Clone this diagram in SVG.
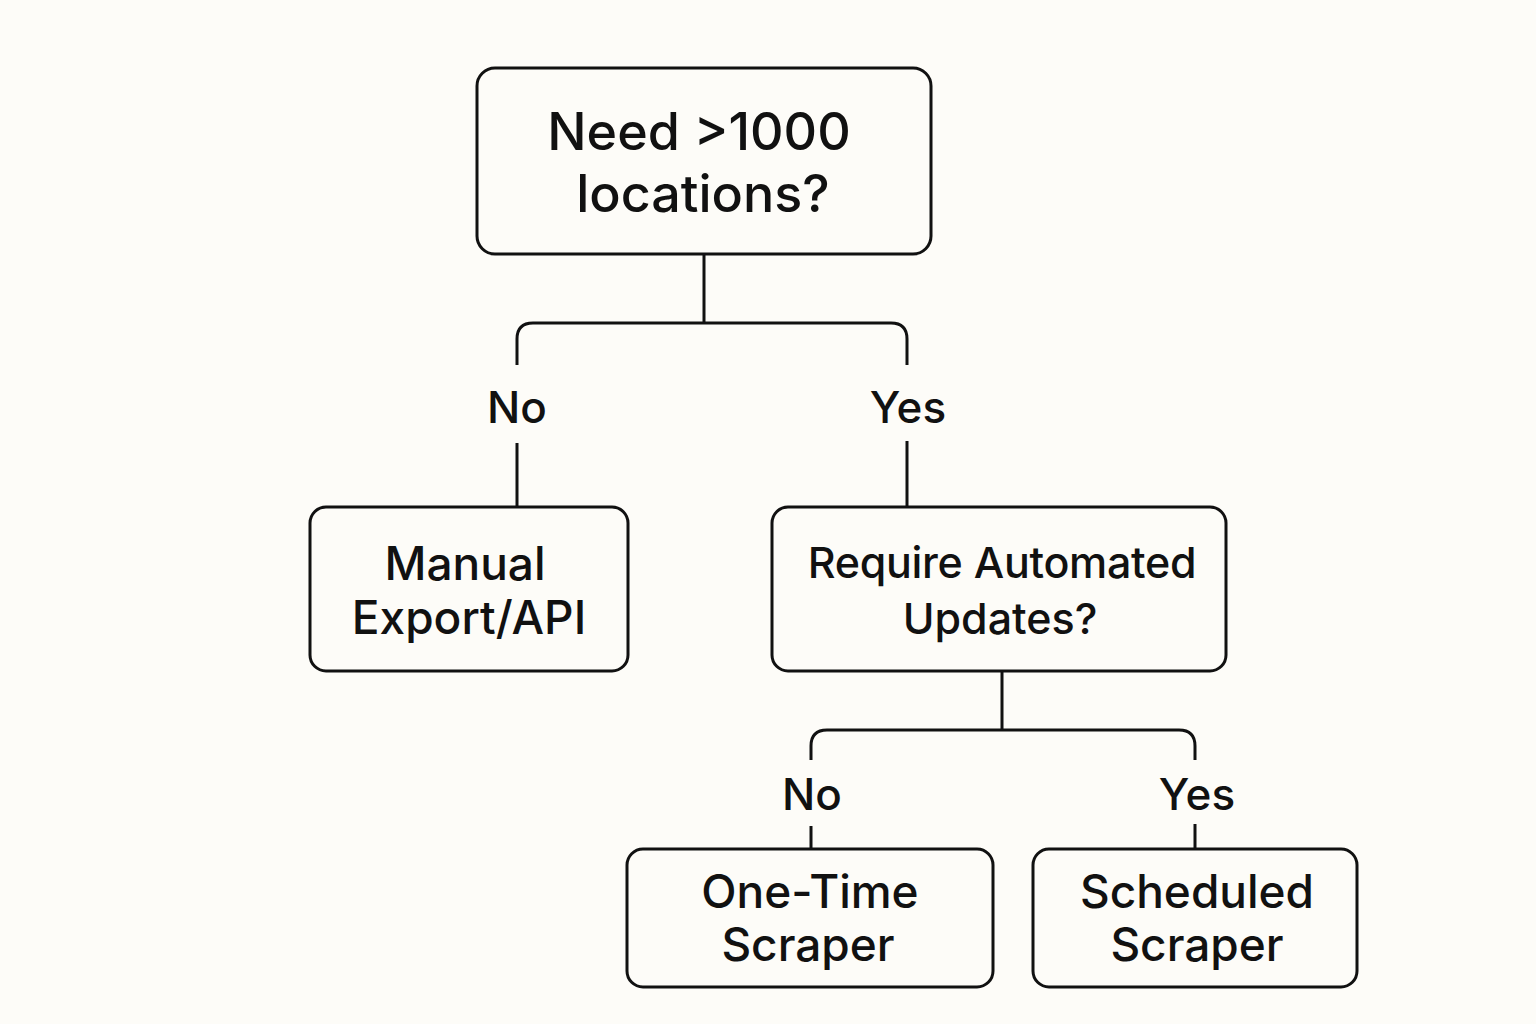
<svg xmlns="http://www.w3.org/2000/svg" width="1536" height="1024" viewBox="0 0 1536 1024">
<style>
.box{fill:#fdfcf8;stroke:#111;stroke-width:3}
.ln{fill:none;stroke:#111;stroke-width:3}
.t{font-family:Inter,"Liberation Sans",sans-serif;fill:#111;text-anchor:middle;font-weight:550}
</style>
<rect width="1536" height="1024" fill="#fdfcf8"/>
<g id="connectors">
<path class="ln" d="M704 254V323M517 365V339Q517 323 533 323H891Q907 323 907 339V365"/>
<path class="ln" d="M517 443V507M907 441V507"/>
<path class="ln" d="M1002 671V730M811 760V746Q811 730 827 730H1179Q1195 730 1195 746V760"/>
<path class="ln" d="M811 826V849M1195 824V849"/>
<text class="t" x="517" y="423" font-size="44">No</text>
<text class="t" x="908" y="423" font-size="44">Yes</text>
<text class="t" x="812" y="810" font-size="44">No</text>
<text class="t" x="1197" y="810" font-size="44">Yes</text>
</g>
<g id="n1">
<rect class="box" x="477" y="68" width="454" height="186" rx="18"/>
<text class="t" x="699" y="150" font-size="52">Need &gt;1000</text>
<text class="t" x="703" y="212" font-size="52">locations?</text>
</g>
<g id="n2">
<rect class="box" x="310" y="507" width="318" height="164" rx="16"/>
<text class="t" x="465" y="580" font-size="46">Manual</text>
<text class="t" x="469" y="634" font-size="46">Export/API</text>
</g>
<g id="n3">
<rect class="box" x="772" y="507" width="454" height="164" rx="16"/>
<text class="t" x="1002" y="578" font-size="43" letter-spacing="-0.3">Require Automated</text>
<text class="t" x="1000" y="634" font-size="43">Updates?</text>
</g>
<g id="n4">
<rect class="box" x="627" y="849" width="366" height="138" rx="16"/>
<text class="t" x="810" y="908" font-size="46">One-Time</text>
<text class="t" x="808" y="961" font-size="46">Scraper</text>
</g>
<g id="n5">
<rect class="box" x="1033" y="849" width="324" height="138" rx="16"/>
<text class="t" x="1197" y="908" font-size="46">Scheduled</text>
<text class="t" x="1197" y="961" font-size="46">Scraper</text>
</g>
</svg>
